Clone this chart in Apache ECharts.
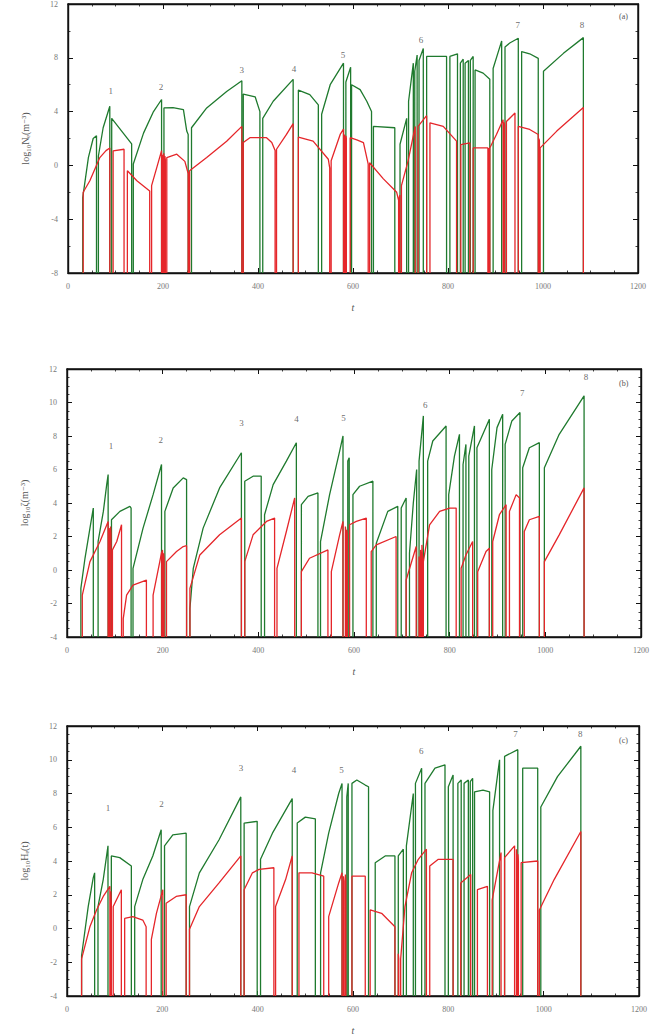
<!DOCTYPE html>
<html>
<head>
<meta charset="utf-8">
<script src="https://cdn.jsdelivr.net/npm/echarts@6/dist/echarts.min.js"></script>
<style>
  html, body { margin: 0; padding: 0; background: #ffffff; }
  #chart { width: 668px; height: 1036px; }
</style>
</head>
<body>
<div id="chart"></div>
<script>
// Each trace is a list of growth episodes; every episode is a run of [t, log value]
// points that starts and ends with a drop to the bottom of the axis.

// (a) log10 N_e
const neHigh = [
  [[31,-2.4],[43,0.6],[53,2.0],[60,2.2]],
  [[64,0.7],[74,2.8],[88,4.4]],
  [[92,3.5],[113,2.55],[134,1.6]],
  [[137.5,0.1],[159,2.4],[180,4.0],[197,4.9]],
  [[202,4.27],[221,4.3],[243,4.15],[250,2.55],[253,2.3]],
  [[260,2.8],[292,4.27],[334,5.5],[366,6.3]],
  [[369,5.3],[394,5.1],[404,4.0]],
  [[410,3.5],[432,4.77],[474,6.4]],
  [[485,5.6],[509,5.26],[527,4.5]],
  [[534,3.8],[552,6.0],[580,7.6]],
  [[585,6.2],[595,7.3]],
  [[597,6.0],[615,5.63],[629,4.77],[639,4.0]],
  [[643,2.9],[688,2.8]],
  [[699,1.57],[713,3.5]],
  [[717,4.77],[727,7.6]],
  [[730,7.0],[735,8.2]],
  [[739,7.8],[748,8.7]],
  [[755,8.1],[797,8.1]],
  [[804,8.1],[820,8.3]],
  [[826,7.6],[832,7.9]],
  [[836,7.6],[843,7.8]],
  [[847,7.8],[853,8.1]],
  [[857,7.1],[874,6.86],[888,6.4]],
  [[895,7.2],[906,8.46],[913,9.25]],
  [[920,8.8],[930,9.1],[948,9.45]],
  [[955,8.46],[972,8.3],[990,7.96]],
  [[1001,7.0],[1043,8.33],[1085,9.5]]
];
const neLow = [
  [[32,-2.0],[46,-1.14],[67,0.58],[80,1.1],[88,1.3]],
  [[95,1.08],[118,1.2]],
  [[125,-0.4],[145,-1.14],[172,-1.9]],
  [[176,-1.5],[187,-0.15],[197,1.1]],
  [[199,0.8],[200,0.6]],
  [[201.5,0.9],[202.5,0.5]],
  [[204,0.7],[205,0.4]],
  [[208,0.58],[229,0.83],[246,0.3],[253,-0.6]],
  [[254.5,-0.6],[255,-0.5]],
  [[256,-0.4],[292,0.58],[334,1.8],[366,2.9]],
  [[369,1.7],[383,2.06],[418,2.06],[429,1.7],[436,1.1]],
  [[439,1.2],[460,2.3],[474,3.1]],
  [[485,2.1],[516,1.8],[548,0.46],[551,-0.2]],
  [[554,0.34],[573,2.3],[580,2.7]],
  [[582,2.3],[583,2.0]],
  [[585,2.2],[586,2.0]],
  [[594,2.06],[608,1.9],[622,1.7],[632,0.1]],
  [[635,0.2],[664,-1.0],[692,-2.0],[696,-2.6]],
  [[697.5,-2.4],[698.5,-2.2]],
  [[702,-1.5],[716,0.34],[731,2.9]],
  [[737,2.9],[755,3.7]],
  [[762,3.17],[790,2.9],[818,1.8]],
  [[827,1.55],[846,1.68]],
  [[853,1.3],[884,1.3]],
  [[885.5,1.3],[886.5,1.2]],
  [[888,1.3],[902,2.3],[916,3.4]],
  [[918,3.2],[919,3.0]],
  [[923,3.26],[941,3.9]],
  [[948,2.9],[972,2.67],[990,2.3]],
  [[991.5,2.0],[992.5,1.8]],
  [[994,1.3],[1029,2.55],[1085,4.3]]
];

// (b) log10 zeta
const zetaHigh = [
  [[29,-1.1],[37.6,0.7],[48,2.5],[55,3.7]],
  [[65,1.7],[76,3.5],[83,5.1],[86,5.7]],
  [[93,3.0],[110.6,3.5],[131.5,3.8],[134,3.7]],
  [[138,0.1],[159,2.5],[180,4.5],[197.6,6.3]],
  [[204.6,3.5],[222,4.9],[243,5.5],[250,5.4]],
  [[257,-2.3],[264,0.1],[284.6,2.5],[319,4.9],[364.6,7.0]],
  [[371.6,5.3],[389,5.6],[406,5.6]],
  [[413,3.3],[431,5.1],[458.6,6.5],[479.5,7.6]],
  [[490,3.9],[504,4.4],[524.6,4.6]],
  [[530,1.7],[549,4.5],[570,7.1],[577,8.0]],
  [[587,6.5],[590,6.7]],
  [[597.8,4.5],[611.7,5.0],[639.5,5.3]],
  [[646.6,1.6],[670.6,3.5],[691.5,3.8]],
  [[698.7,3.7],[709,4.3]],
  [[716,1.0],[724,4.0],[731,6.0]],
  [[736,6.5],[745,9.2]],
  [[754,6.5],[764.7,7.7],[792.5,8.6]],
  [[798,4.5],[810,6.8],[820.5,8.1]],
  [[828,6.3],[834,7.5]],
  [[840,6.8],[851.8,8.6]],
  [[857,7.3],[883,9.0]],
  [[888,6.0],[899,8.5],[910.8,9.3]],
  [[916,7.5],[930,8.9],[947,9.4]],
  [[952.7,6.1],[966.6,7.3],[987.5,7.6]],
  [[998,6.1],[1029,8.1],[1081,10.4]]
];
const zetaLow = [
  [[32,-1.5],[48,0.5],[69,1.7],[86,2.9]],
  [[88,2.5],[89,2.0]],
  [[91,2.6],[92,2.2]],
  [[95,1.2],[104,1.7],[114,2.7]],
  [[117.6,-2.9],[124.6,-1.5],[138,-0.9],[166,-0.6]],
  [[180,-1.5],[194,0.5],[198,1.1]],
  [[199.5,1.2],[200.5,0.8]],
  [[202,1.0],[203,0.7]],
  [[208,0.5],[229,1.1],[243,1.4],[250,1.45]],
  [[257,-1.1],[277.7,0.9],[319,2.1],[364.6,3.1]],
  [[371.6,0.5],[389,2.1],[417,2.9],[434,3.1]],
  [[439,0.1],[458.6,2.3],[476,4.3]],
  [[490,-0.1],[507,0.7],[545.5,1.2]],
  [[552.6,-0.1],[570,2.1],[577,2.9]],
  [[582,2.6],[583,2.3]],
  [[585,2.4],[586,2.2]],
  [[590.8,2.7],[604.8,2.9],[625.7,3.1]],
  [[636,1.1],[646.6,1.5],[688,2.0]],
  [[709,-0.6],[730,1.4]],
  [[736,0.8],[737,0.3]],
  [[739,1.2],[740,0.5]],
  [[742,1.5],[743,0.9]],
  [[745,0.5],[758,2.7],[779,3.5],[800,3.7],[813.6,3.7]],
  [[824,0.1],[834,0.9],[848,1.7]],
  [[858.6,-0.1],[876,1.1],[883,1.3]],
  [[890,1.7],[904,3.3],[918,3.9]],
  [[925,3.5],[939,4.5],[946,4.3]],
  [[956,2.3],[966.6,3.0],[987.5,3.2]],
  [[998,0.5],[1029,2.1],[1081,4.9]]
];

// (c) log10 H_e
const heHigh = [
  [[30.6,-1.6],[44.5,1.3],[55,3.0],[58,3.3]],
  [[65,1.3],[76,2.9],[86,4.9]],
  [[93,4.3],[110.6,4.2],[135,3.7]],
  [[142,1.3],[159,2.9],[180,4.3],[197.6,5.85]],
  [[204.6,4.9],[222,5.55],[250,5.65]],
  [[257,1.3],[277.7,3.3],[319,5.26],[364.6,7.8]],
  [[371.6,6.25],[399,6.35]],
  [[406,4.1],[431,5.65],[472.5,7.7]],
  [[483,6.25],[500,6.6],[521,6.5]],
  [[532,3.3],[549,5.65],[570,8.0],[577,8.6]],
  [[587,7.8],[590,8.6]],
  [[597.8,8.6],[608,8.8],[625.7,8.5],[632.6,8.4]],
  [[646.6,3.9],[667.5,4.3],[688,4.3]],
  [[695,4.3],[705.6,4.7]],
  [[712,4.9],[726.5,8.0]],
  [[731,8.6],[744,9.5]],
  [[751,8.6],[772,9.5],[793,9.7]],
  [[800,8.4],[810,9.1]],
  [[820,8.6],[827,8.8]],
  [[833,8.6],[842,8.8]],
  [[846,8.7],[851,8.9]],
  [[855,8.1],[872.7,8.2],[886.6,8.1]],
  [[893.5,7.0],[907.5,10.0]],
  [[918,10.2],[945.7,10.6]],
  [[956,9.5],[987.5,9.5]],
  [[994,7.2],[1029,9.0],[1078,10.8]]
];
const heLow = [
  [[30.6,-1.8],[48,0.1],[62,1.1],[76,1.9],[90,2.5]],
  [[92,2.2],[93,1.5]],
  [[97,1.3],[114,2.3]],
  [[121,0.6],[138,0.7],[159,0.5],[166,0.1]],
  [[177,-0.65],[187.6,0.9],[201,2.3]],
  [[208,1.5],[229,1.9],[250,2.0]],
  [[257,-0.05],[277.7,1.3],[319,2.7],[364.6,4.3]],
  [[371.6,2.3],[389,3.3],[403,3.5],[434,3.6]],
  [[437.6,1.3],[458.6,2.9],[472.5,4.3]],
  [[486.6,3.3],[514,3.3],[538.6,3.1]],
  [[549,0.7],[570,2.7],[577,3.3]],
  [[580,3.1],[581,2.8]],
  [[584,3.2],[585,2.9]],
  [[597.8,3.1],[625.7,3.1]],
  [[636,1.1],[660,0.9],[688,0.1]],
  [[695,-1.5],[696,-1.8]],
  [[700,-1.8],[709,1.3],[723,3.3],[737,4.1],[754,4.7]],
  [[761,3.7],[779,4.1],[810,4.1]],
  [[826,2.7],[847,3.2]],
  [[861,2.3],[882,2.5]],
  [[892,1.7],[910.6,4.5]],
  [[918,4.2],[939,4.9]],
  [[943,4.7],[944,4.3]],
  [[946,4.4],[947,4.0]],
  [[952.7,3.9],[987.5,4.0]],
  [[991,1.1],[1022,2.9],[1078,5.75]]
];

// Numbered event markers above the peaks: [t, height]
const neEvents   = [[90,5.5],[196,5.8],[366,7.1],[476,7.2],[579,8.24],[743,9.34],[947,10.45],[1082,10.45]];
const zetaEvents = [[92,7.4],[196,7.76],[365,8.8],[480,9.0],[578,9.07],[749,9.85],[952,10.57],[1085,11.5]];
const heEvents   = [[86,7.17],[198,7.35],[365,9.5],[476,9.4],[576,9.4],[743,10.5],[941,11.5],[1077,11.5]];
const eventNames = ['1','2','3','4','5','6','7','8'];

// Axis settings per panel
const tRange = [0, 1200];
const tStep = 200;
const panelTitles = ['log\u2081\u2080N\u2091(m\u207B\u00B3)', 'log\u2081\u2080\u03B6(m\u207B\u00B3)', 'log\u2081\u2080H\u2091(t)'];
const panelTags = ['(a)', '(b)', '(c)'];
const yRanges = [[-8, 12], [-4, 12], [-4, 12]];
const ySteps = [4, 2, 2];

const GREEN = '#1f7a2e';
const RED = '#e5262a';
const INK = '#111111';
const FONT = '"Liberation Serif", "DejaVu Serif", serif';

function traceData(episodes, floor) {
  const out = [];
  episodes.forEach(ep => {
    const t0 = ep[0][0];
    const t1 = ep[ep.length - 1][0];
    out.push([t0, floor]);
    ep.forEach(p => out.push([p[0], p[1]]));
    out.push([t1, floor]);
    out.push([t1, '-']);
  });
  return out;
}

// Each panel is boxed by its grid border; ticks point inward on all four sides.
const grids = [
  { left: 68, right: 30, top: 2, height: 271 },
  { left: 67, right: 27, top: 369, height: 268 },
  { left: 67, right: 29, top: 726, height: 271 }
].map(g => Object.assign({ show: true, borderColor: INK, borderWidth: 1.4, backgroundColor: 'transparent' }, g));

const xAxes = [], yAxes = [], series = [], graphics = [];
const panels = [
  { high: neHigh, low: neLow, events: neEvents },
  { high: zetaHigh, low: zetaLow, events: zetaEvents },
  { high: heHigh, low: heLow, events: heEvents }
];

function axisBase(extra) {
  return Object.assign({
    type: 'value',
    axisLine: { show: true, onZero: false, lineStyle: { color: INK, width: 1.4 } },
    axisTick: { show: true, inside: true, length: 5, lineStyle: { color: INK, width: 1 } },
    minorTick: { show: true, splitNumber: 4, length: 2.5, lineStyle: { color: INK, width: 0.8 } },
    splitLine: { show: false }
  }, extra);
}

panels.forEach((p, i) => {
  const yMinorSplit = ySteps[i] === 4 ? 2 : 4;
  xAxes.push(axisBase({
    gridIndex: i, position: 'bottom', min: tRange[0], max: tRange[1], interval: tStep,
    axisLabel: { color: '#777', fontSize: 8, fontFamily: FONT, margin: 9, formatter: v => String(v) },
    name: 't', nameLocation: 'middle', nameGap: 29,
    nameTextStyle: { color: '#555', fontSize: 10, fontStyle: 'italic', fontFamily: FONT }
  }));
  xAxes.push(axisBase({
    gridIndex: i, position: 'top', min: tRange[0], max: tRange[1], interval: tStep,
    axisLabel: { show: false }
  }));
  yAxes.push(axisBase({
    gridIndex: i, position: 'left', min: yRanges[i][0], max: yRanges[i][1], interval: ySteps[i],
    minorTick: { show: true, splitNumber: yMinorSplit, length: 2.5, lineStyle: { color: INK, width: 0.8 } },
    axisLabel: { color: '#777', fontSize: 8, fontFamily: FONT, margin: 10 },
    name: panelTitles[i], nameLocation: 'middle', nameGap: 38, nameRotate: 90,
    nameTextStyle: { color: '#555', fontSize: 10, fontFamily: FONT }
  }));
  yAxes.push(axisBase({
    gridIndex: i, position: 'right', min: yRanges[i][0], max: yRanges[i][1], interval: ySteps[i],
    minorTick: { show: true, splitNumber: yMinorSplit, length: 2.5, lineStyle: { color: INK, width: 0.8 } },
    axisLabel: { show: false }
  }));

  const floor = yRanges[i][0];
  series.push({
    type: 'line', xAxisIndex: 2 * i, yAxisIndex: 2 * i, data: traceData(p.high, floor),
    showSymbol: false, symbol: 'none', connectNulls: false, animation: false,
    lineStyle: { color: GREEN, width: 1.3 }, z: 3
  });
  series.push({
    type: 'line', xAxisIndex: 2 * i, yAxisIndex: 2 * i, data: traceData(p.low, floor),
    showSymbol: false, symbol: 'none', connectNulls: false, animation: false,
    lineStyle: { color: RED, width: 1.3 }, z: 4
  });
  series.push({
    type: 'scatter', xAxisIndex: 2 * i, yAxisIndex: 2 * i, symbolSize: 1, animation: false,
    itemStyle: { color: 'rgba(0,0,0,0)' },
    data: p.events.map((e, k) => ({ name: eventNames[k], value: e })),
    label: { show: true, position: 'inside', formatter: '{b}', color: '#444', fontSize: 9, fontFamily: FONT },
    z: 5
  });

  graphics.push({
    type: 'text', left: 619, top: grids[i].top + 10,
    style: { text: panelTags[i], fill: '#555', font: '8px ' + FONT }
  });
});

const chart = echarts.init(document.getElementById('chart'), null, { renderer: 'svg' });
chart.setOption({
  animation: false,
  backgroundColor: '#ffffff',
  grid: grids,
  xAxis: xAxes,
  yAxis: yAxes,
  series: series,
  graphic: graphics
});
</script>
</body>
</html>
